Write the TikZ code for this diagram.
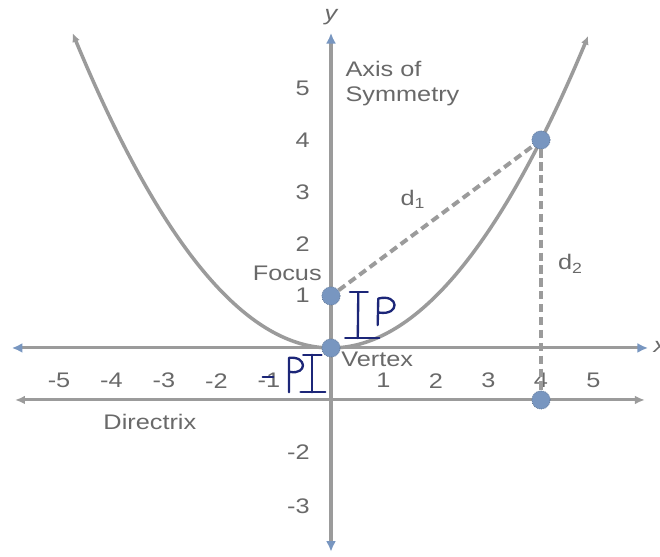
\documentclass[tikz,border=0pt]{standalone}
\usepackage{fontspec}
\newfontfamily\graphfont[FakeStretch=1.2]{Liberation Sans}
\usepackage{tikz}
\usetikzlibrary{arrows.meta, positioning, calc}

\definecolor{axisgray}{RGB}{155,155,155}
\definecolor{textgray}{RGB}{105,105,105}
\definecolor{dotblue}{RGB}{120,150,192}
\definecolor{inkblue}{RGB}{28,38,120}

\tikzset{
  graphline/.style={axisgray, line width=2.6pt},
  axisarrow/.style={graphline, {Latex[length=3.2mm,width=3mm,fill=dotblue,color=dotblue]}-{Latex[length=3.2mm,width=3mm,fill=dotblue,color=dotblue]}},
  grayarrow/.style={graphline, {Latex[length=3mm,width=2.6mm]}-{Latex[length=3mm,width=2.6mm]}},
  dashline/.style={axisgray, line width=3.4pt, dash pattern=on 7pt off 4pt},
  ptdot/.style={circle, fill=dotblue, draw=dotblue!75!black, densely dotted, line width=0.6pt, minimum size=0.55cm, inner sep=0pt},
  lbl/.style={textgray, font=\graphfont\fontsize{18}{21}\selectfont, inner sep=1pt},
  ink/.style={inkblue, line width=2pt, line cap=round, line join=round},
}

\begin{document}
\begin{tikzpicture}[>=Stealth, x=1.575cm, y=1.56cm]
\useasboundingbox (-6.305,-4.019) rectangle (6.267,6.692);

% =============== AXES ===============
\draw[axisarrow] (-6.08,0) -- (6.04,0);
\draw[axisarrow] (0,-3.92) -- (0,6.06);
\node[lbl, font=\graphfont\fontsize{18}{21}\selectfont\itshape] (ylab) at (0,6.37) {y};
\node[lbl, font=\graphfont\fontsize{18}{21}\selectfont\itshape, anchor=west] (xlab) at (6.12,0.02) {x};

% tick labels
\foreach \n in {1,...,5}{
  \node[lbl] (xt\n) at (\n,-0.63) {\n};
  \node[lbl, anchor=east] (xm\n) at (-\n+0.06,-0.63) {-\n};
}
\foreach \n in {2,...,5}{
  \node[lbl, anchor=east] (yt\n) at (-0.38,\n) {\n};
}
\node[lbl, anchor=east] (yt1) at (-0.38,1.02) {1};
\node[lbl, anchor=east] (ym2) at (-0.38,-2) {-2};
\node[lbl, anchor=east] (ym3) at (-0.38,-3.05) {-3};

% =============== DIRECTRIX ===============
\draw[grayarrow] (-6.02,-1) -- (5.98,-1);
\node[lbl] (dirlab) at (-3.45,-1.42) {Directrix};

% =============== PARABOLA ===============
\draw[graphline, line width=3pt, {Latex[length=2.6mm,width=2.4mm]}-{Latex[length=2.6mm,width=2.4mm]}]
  plot[domain=-4.92:4.9, samples=80, smooth] (\x,{\x*\x/4});

% =============== POINTS ===============
\node[ptdot] (focus) at (0,1) {};
\node[ptdot] (vertex) at (0,0) {};
\node[ptdot] (point) at (4,4) {};
\node[ptdot] (foot) at (4,-1) {};

\draw[dashline] (focus) -- (point);
\draw[dashline] (point) -- (foot);

\node[lbl, anchor=east] (focuslab) at (-0.15,1.44) {Focus};
\node[lbl, anchor=west] (vertexlab) at (0.17,-0.22) {Vertex};
\node[lbl, anchor=north west, align=left, font=\graphfont\fontsize{18}{22}\selectfont] (axislab) at (0.25,5.55) {Axis of\\Symmetry};
\node[lbl] (d1lab) at (1.56,2.86) {d\textsubscript{1}};
\node[lbl] (d2lab) at (4.56,1.62) {d\textsubscript{2}};

% =============== HANDWRITING ===============
% upper p
\draw[ink] (0.36,1.07) -- (0.70,1.07);
\draw[ink] (0.52,1.07) -- (0.51,0.19);
\draw[ink] (0.27,0.19) -- (0.92,0.19);
\draw[ink] (0.89,0.44) -- (0.90,0.95) .. controls (1.30,1.05) and (1.32,0.62) .. (0.92,0.68);
% lower -p
\draw[ink] (-1.30,-0.56) -- (-1.10,-0.56);
\draw[ink] (-0.80,-0.85) -- (-0.80,-0.19) .. controls (-0.45,-0.15) and (-0.45,-0.52) .. (-0.78,-0.46);
\draw[ink] (-0.53,-0.13) -- (-0.18,-0.13);
\draw[ink] (-0.36,-0.13) -- (-0.36,-0.85);
\draw[ink] (-0.58,-0.85) -- (-0.11,-0.85);

\end{tikzpicture}
\end{document}
